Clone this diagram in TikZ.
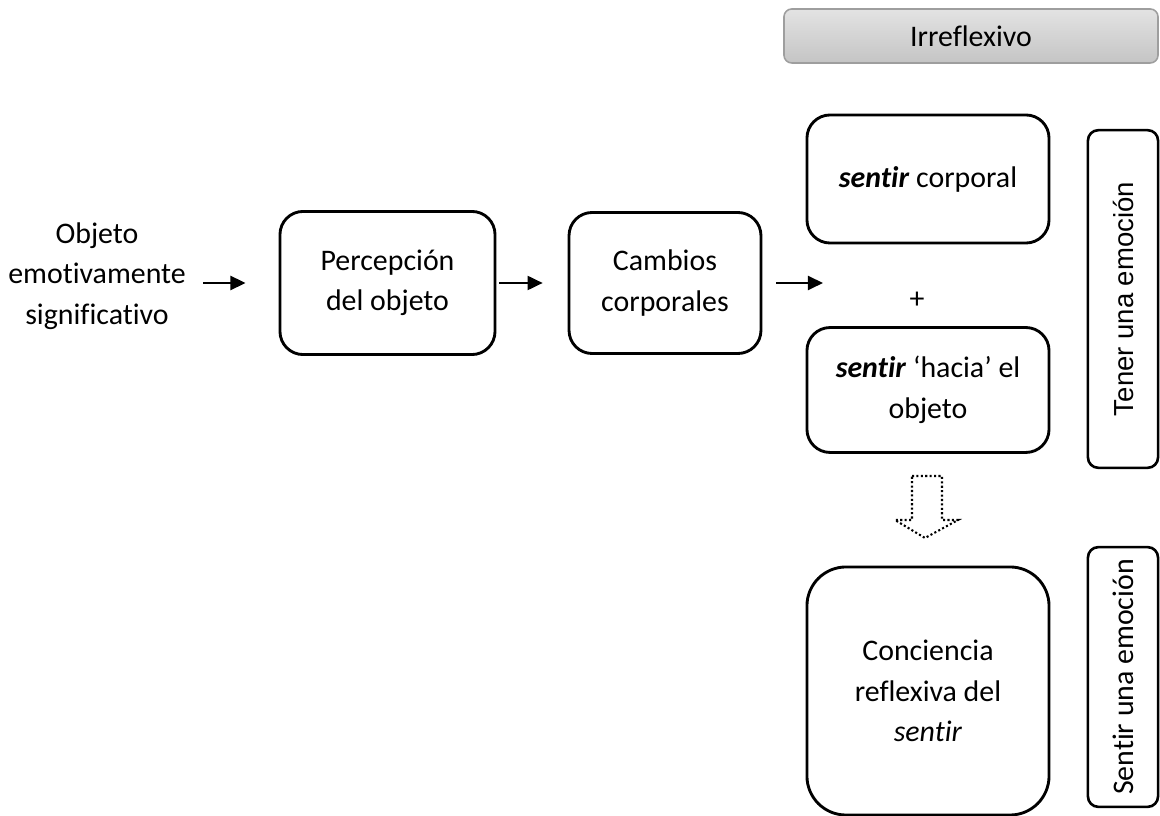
\documentclass[tikz,border=0pt]{standalone}
\usepackage{fontspec}
\setmainfont{Carlito}[Ligatures=NoCommon]
\newfontfamily\arialfont{Liberation Sans}
\usetikzlibrary{positioning,arrows.meta}
\tikzset{box/.style = {draw, rounded corners=8.9pt, line width=1.1pt, align=center, inner sep=0pt}}
\tikzset{sidebox/.style = {draw, rounded corners=4pt, line width=1pt, rotate=90, inner sep=0pt, minimum height=27pt}}
\tikzset{flow/.style = {->, line width=0.8pt}}
\tikzset{hint/.style = {draw=black!38, rounded corners=3pt, line width=0.6pt, top color=black!11, bottom color=black!23, inner sep=0pt}}

\begin{document}
\begin{tikzpicture}[x=0.385pt, y=-0.385pt, >={Triangle[length=5.8pt,width=5.4pt]},
    font=\fontsize{11.5}{15.6}\selectfont]
  \useasboundingbox (0,0) rectangle (1160,816);

  \node [align=center, inner sep=0pt] (objeto) at (97,276) {Objeto\\emotivamente\\significativo};
  \node [box, minimum width=82.8pt, minimum height=55.1pt] (percep) at (387.5,283) {Percepción\\del objeto};
  \node [box, minimum width=73.9pt, minimum height=54.3pt] (cambios) at (665,283) {Cambios\\corporales};
  \coordinate (entrada) at (823,283);

  \node [box, minimum width=93.2pt, minimum height=49.3pt] (corporal) at (928,179) {\textbf{\textit{sentir}} corporal};
  \node (mas) at (917,300) {+};
  \node [box, minimum width=93.2pt, minimum height=48.1pt] (hacia) at (928,390) {\textbf{\textit{sentir}} ‘hacia’ el\\objeto};
  \node [box, rounded corners=15pt, minimum width=93.2pt, minimum height=95.5pt] (conciencia) at (928,691) {Conciencia\\reflexiva del\\\textit{sentir}};

  \node [hint, minimum width=144pt, minimum height=20.8pt] (irreflexivo) at (971,36) {Irreflexivo};
  \node [sidebox, minimum width=130pt, font=\arialfont\fontsize{10.6}{12}\selectfont] (tener) at (1123,299) {Tener una emoción};
  \node [sidebox, minimum width=100pt] (sentirla) at (1123,677) {Sentir una emoción};

  \draw [flow, shorten <=6.5pt, shorten >=12.7pt] (objeto.east |- percep.west) -- (percep.west);
  \draw [flow, shorten <=1pt, shorten >=9.6pt] (percep) -- (cambios);
  \draw [flow, shorten <=5.4pt] (cambios) -- (entrada);

  % flecha punteada hacia la conciencia
  \draw [line width=0.8pt, dash pattern=on 0.8pt off 0.9pt]
    (912,476) -- (942,476) -- (942,520) -- (958,520) -- (925,538) -- (895,520) -- (912,520) -- cycle;
\end{tikzpicture}
\end{document}
